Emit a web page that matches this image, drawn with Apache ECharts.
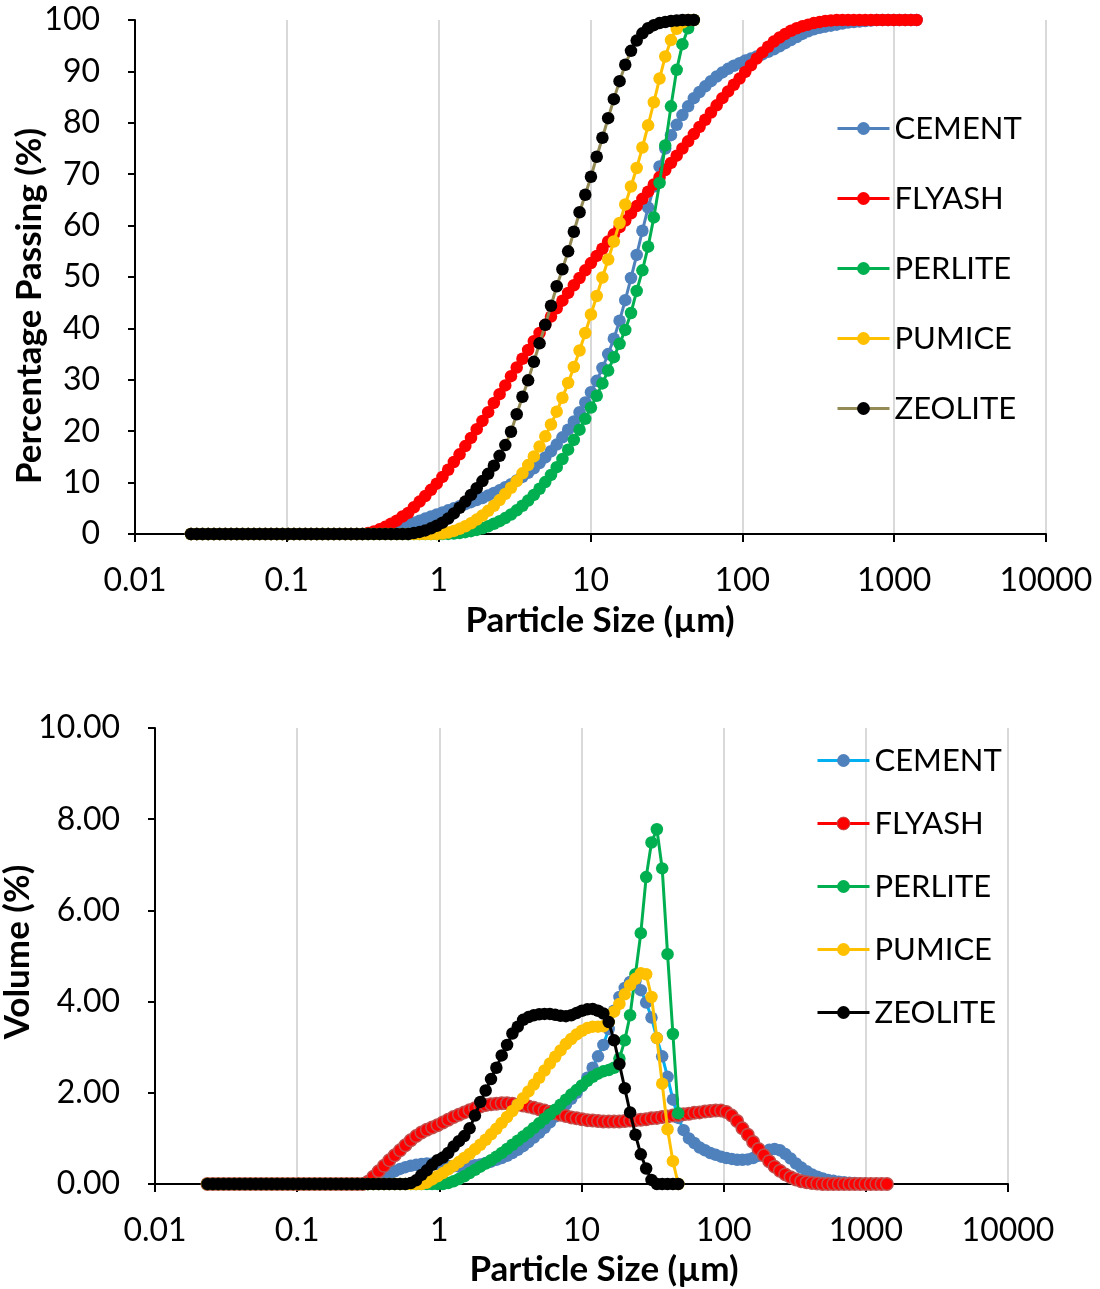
<!DOCTYPE html>
<html>
<head>
<meta charset="utf-8">
<script src="https://cdn.jsdelivr.net/npm/echarts@6/dist/echarts.min.js"></script>
<style>
  html, body { margin: 0; padding: 0; background: #ffffff; }
  #passing { position: absolute; left: 0; top: 0; width: 1100px; height: 650px; }
  #volume  { position: absolute; left: 0; top: 650px; width: 1100px; height: 639px; }
</style>
</head>
<body>
<div id="passing"></div>
<div id="volume"></div>
<script>
// Particle size classes (µm), one per measurement channel
const sizes = [
  0.0234,0.02552,0.02783,0.03035,0.03309,0.03609,0.03935,0.04292,
  0.0468,0.05104,0.05566,0.06069,0.06619,0.07218,0.07871,0.08583,
  0.0936,0.1021,0.1113,0.1214,0.1324,0.1444,0.1574,0.1717,
  0.1872,0.2041,0.2226,0.2428,0.2647,0.2887,0.3148,0.3433,
  0.3744,0.4083,0.4452,0.4855,0.5295,0.5774,0.6297,0.6867,
  0.7488,0.8166,0.8905,0.9711,1.059,1.155,1.259,1.373,
  1.498,1.633,1.781,1.942,2.118,2.310,2.519,2.747,
  2.995,3.266,3.562,3.884,4.236,4.619,5.037,5.493,
  5.990,6.533,7.124,7.769,8.472,9.238,10.07,10.99,
  11.98,13.07,14.25,15.54,16.94,18.48,20.15,21.97,
  23.96,26.13,28.50,31.07,33.89,36.95,40.30,43.95,
  47.92,52.26,56.99,62.15,67.77,73.91,80.60,87.89,
  95.85,104.5,114.0,124.3,135.5,147.8,161.2,175.8,
  191.7,209.0,228.0,248.6,271.1,295.6,322.4,351.6,
  383.4,418.1,455.9,497.2,542.2,591.3,644.8,703.1,
  766.8,836.2,911.8,994.4,1084,1183,1290,1406
];

const materials = ['CEMENT', 'FLYASH', 'PERLITE', 'PUMICE', 'ZEOLITE'];
const xTickLabels = ['0.01', '0.1', '1', '10', '100', '1000', '10000'];

// Cumulative percentage passing (%)
const passingCement = [
  0,0,0,0,0,0,0,0, 0,0,0,0,0,0,0,0, 0,0,0,0,0,0,0,0,
  0,0,0,0,0,0,0,0.05,
  0.15,0.3,0.5,0.75,1.05,1.4,1.8,2.2,
  2.6,3.0,3.4,3.8,4.2,4.6,5.0,5.4,
  5.8,6.2,6.6,7.0,7.5,8.0,8.5,9.1,
  9.7,10.4,11.1,11.9,12.8,13.8,14.9,16.1,
  17.4,18.8,20.3,21.9,23.7,25.6,27.6,29.8,
  32.3,35.0,38.0,41.5,45.5,49.8,54.3,59.0,
  63.5,67.6,71.5,75.0,77.6,79.6,81.5,83.2,
  84.8,86.0,87.1,88.1,89.0,89.8,90.5,91.1,
  91.6,92.1,92.5,92.9,93.3,93.8,94.3,94.9,
  95.5,96.1,96.7,97.3,97.8,98.2,98.5,98.7,
  98.9,99.1,99.3,99.5,99.6,99.7,99.8,99.9,
  100,100,100,100,100,100,100,100
];
const passingFlyash = [
  0,0,0,0,0,0,0,0, 0,0,0,0,0,0,0,0, 0,0,0,0,0,0,0,0,
  0,0,0,0,0,0,0,0.2,
  0.5,0.9,1.4,2.0,2.6,3.4,4.1,5.2,
  6.3,7.4,8.6,9.8,11.1,12.5,14.0,15.5,
  17.1,18.7,20.4,22.0,23.7,25.5,27.2,28.9,
  30.7,32.4,34.1,35.8,37.5,39.1,40.7,42.3,
  43.9,45.4,46.9,48.4,49.8,51.3,52.7,54.1,
  55.5,56.9,58.3,59.7,61.0,62.4,63.8,65.2,
  66.6,68.0,69.4,70.8,72.2,73.6,75.0,76.4,
  77.8,79.2,80.6,82.0,83.4,84.8,86.1,87.4,
  88.6,89.9,91.2,92.5,93.7,94.8,95.8,96.6,
  97.3,97.9,98.4,98.8,99.1,99.4,99.6,99.8,
  99.9,100,100,100,100,100,100,100,
  100,100,100,100,100,100,100,100
];
const passingPerlite = [
  0,0,0,0,0,0,0,0, 0,0,0,0,0,0,0,0, 0,0,0,0,0,0,0,0,
  0,0,0,0,0,0,0,0, 0,0,0,0,0,0,0,0,
  0,0,0,0,0,0.02,0.08,0.2,
  0.35,0.55,0.8,1.1,1.5,2.0,2.5,3.1,
  3.8,4.6,5.5,6.5,7.6,8.8,10.1,11.5,
  13.0,14.6,16.4,18.3,20.3,22.4,24.6,26.9,
  29.3,31.8,34.4,37.0,39.7,43.0,47.3,51.3,
  55.9,61.6,68.3,75.6,83.2,90.3,95.3,98.4,
  100
];
const passingPumice = [
  0,0,0,0,0,0,0,0, 0,0,0,0,0,0,0,0, 0,0,0,0,0,0,0,0,
  0,0,0,0,0,0,0,0, 0,0,0,0,0,0,0,0,
  0,0,0,0,0.1,0.3,0.6,1.0,
  1.5,2.1,2.8,3.6,4.5,5.5,6.6,7.8,
  9.0,10.3,11.8,13.4,15.1,17.0,19.0,21.3,
  23.8,26.5,29.4,32.5,35.7,39.1,42.7,46.3,
  49.9,53.4,56.9,60.5,64.1,67.6,71.2,75.2,
  79.5,84.0,88.6,92.9,96.1,98.3,99.5,100,
  100
];
const passingZeolite = [
  0,0,0,0,0,0,0,0, 0,0,0,0,0,0,0,0, 0,0,0,0,0,0,0,0,
  0,0,0,0,0,0,0,0,
  0,0,0,0,0,0,0,0.2,
  0.4,0.7,1.1,1.6,2.2,3.0,4.0,5.1,
  6.3,7.6,8.9,10.3,11.7,13.3,15.2,17.3,
  19.9,23.3,26.7,29.9,33.5,37.1,40.7,44.4,
  48.2,51.5,55.0,58.8,62.6,66.0,69.5,73.4,
  77.1,80.9,84.6,88.1,91.3,94.0,96.0,97.4,
  98.4,99.0,99.4,99.6,99.8,99.9,100,100,
  100
];

// Volume fraction per size class (%)
const volumeCement = [
  0,0,0,0,0,0,0,0, 0,0,0,0,0,0,0,0, 0,0,0,0,0,0,0,0,
  0,0,0,0,0,0,0,0.05,
  0.1,0.16,0.22,0.28,0.33,0.37,0.4,0.42,
  0.44,0.45,0.45,0.44,0.42,0.40,0.39,0.38,
  0.38,0.39,0.41,0.43,0.46,0.49,0.53,0.57,
  0.62,0.68,0.75,0.83,0.92,1.02,1.12,1.23,
  1.35,1.48,1.61,1.74,1.87,2.0,2.15,2.33,
  2.55,2.8,3.05,3.4,3.8,4.1,4.3,4.43,
  4.45,4.25,3.98,3.65,3.2,2.8,2.35,1.85,
  1.45,1.18,1.0,0.9,0.8,0.74,0.68,0.64,
  0.6,0.57,0.55,0.53,0.53,0.54,0.57,0.62,
  0.69,0.75,0.77,0.74,0.66,0.56,0.45,0.36,
  0.28,0.21,0.16,0.12,0.09,0.07,0.05,0.04,
  0.03,0.02,0.01,0.01,0,0,0,0
];
const volumeFlyash = [
  0,0,0,0,0,0,0,0, 0,0,0,0,0,0,0,0, 0,0,0,0,0,0,0,0,
  0,0,0,0,0,0,0.05,0.16,
  0.28,0.4,0.52,0.63,0.74,0.85,0.96,1.05,
  1.13,1.19,1.24,1.29,1.35,1.41,1.47,1.52,
  1.57,1.62,1.66,1.7,1.73,1.75,1.76,1.77,
  1.77,1.76,1.74,1.72,1.7,1.67,1.64,1.61,
  1.58,1.55,1.52,1.49,1.46,1.44,1.42,1.4,
  1.39,1.38,1.37,1.37,1.37,1.37,1.38,1.39,
  1.4,1.41,1.42,1.44,1.45,1.47,1.48,1.5,
  1.51,1.53,1.54,1.56,1.57,1.59,1.6,1.61,
  1.61,1.58,1.5,1.38,1.22,1.08,0.92,0.77,
  0.63,0.5,0.38,0.29,0.21,0.15,0.1,0.06,
  0.04,0.02,0.01,0,0,0,0,0,
  0,0,0,0,0,0,0,0
];
const volumePerlite = [
  0,0,0,0,0,0,0,0, 0,0,0,0,0,0,0,0, 0,0,0,0,0,0,0,0,
  0,0,0,0,0,0,0,0, 0,0,0,0,0,0,0,0,
  0,0,0,0,0,0.02,0.06,0.11,
  0.17,0.24,0.31,0.38,0.45,0.52,0.6,0.68,
  0.77,0.86,0.95,1.04,1.13,1.23,1.33,1.43,
  1.53,1.63,1.74,1.85,1.96,2.06,2.16,2.26,
  2.35,2.42,2.47,2.5,2.55,2.75,3.15,3.7,
  4.6,5.5,6.73,7.49,7.78,6.92,5.04,3.29,
  1.55
];
const volumePumice = [
  0,0,0,0,0,0,0,0, 0,0,0,0,0,0,0,0, 0,0,0,0,0,0,0,0,
  0,0,0,0,0,0,0,0, 0,0,0,0,0,0,0,0,
  0,0.03,0.1,0.17,0.24,0.32,0.4,0.48,
  0.57,0.66,0.76,0.86,0.97,1.09,1.21,1.34,
  1.47,1.6,1.74,1.88,2.03,2.18,2.33,2.49,
  2.64,2.79,2.93,3.07,3.18,3.28,3.36,3.42,
  3.45,3.45,3.46,3.55,3.78,3.95,4.16,4.36,
  4.5,4.62,4.6,4.1,3.2,2.2,1.2,0.5,
  0
];
const volumeZeolite = [
  0,0,0,0,0,0,0,0, 0,0,0,0,0,0,0,0, 0,0,0,0,0,0,0,0,
  0,0,0,0,0,0,0,0,
  0,0,0,0,0,0,0.02,0.08,
  0.2,0.3,0.42,0.52,0.58,0.68,0.82,0.94,
  1.05,1.22,1.5,1.8,2.05,2.3,2.55,2.82,
  3.05,3.3,3.45,3.6,3.66,3.7,3.72,3.73,
  3.73,3.71,3.69,3.68,3.7,3.75,3.8,3.83,
  3.84,3.8,3.74,3.55,3.15,2.63,2.1,1.57,
  1.08,0.65,0.34,0.09,0,0,0,0,
  0
];

const passingValues = [passingCement, passingFlyash, passingPerlite, passingPumice, passingZeolite];
const volumeValues = [volumeCement, volumeFlyash, volumePerlite, volumePumice, volumeZeolite];

// Line / marker colours for each material in the two plots
const passingLine = ['#4F81BD', '#FF0000', '#00B050', '#FFC000', '#948A54'];
const passingMark = ['#4F81BD', '#FF0000', '#00B050', '#FFC000', '#000000'];
const volumeLine  = ['#00B0F0', '#FF0000', '#00B050', '#FFC000', '#000000'];
const volumeMark  = ['#4F81BD', '#FF0000', '#00B050', '#FFC000', '#000000'];
const volumeBorder = [null, '#C0504D', null, null, null];

const FONT = 'Lato, "Open Sans", sans-serif';

function pairs(vals) {
  return vals.map((v, i) => [sizes[i], v]);
}

function logLabel(v) {
  const s = String(+Number(v).toPrecision(6));
  return xTickLabels.indexOf(s) >= 0 ? s : '';
}

function buildSeries(values, lineCols, markCols, borders) {
  return materials.map((name, k) => ({
    name: name,
    type: 'line',
    data: pairs(values[k]),
    symbol: 'circle',
    symbolSize: 12.5,
    showSymbol: true,
    clip: false,
    lineStyle: { color: lineCols[k], width: 3 },
    itemStyle: borders && borders[k]
      ? { color: markCols[k], borderColor: borders[k], borderWidth: 1.5 }
      : { color: markCols[k], borderWidth: 0 },
    emphasis: { disabled: true },
    z: 2 + k
  }));
}

function legendData(lineCols, markCols, borders) {
  return materials.map((name, k) => ({
    name: name,
    itemStyle: borders && borders[k]
      ? { color: markCols[k], borderColor: borders[k], borderWidth: 1 }
      : { color: markCols[k], borderWidth: 0 },
    lineStyle: { color: lineCols[k], width: 3 }
  }));
}

function xAxisCfg() {
  return {
    type: 'log', logBase: 10, min: 0.01, max: 10000,
    axisLine: { show: true, lineStyle: { color: '#000', width: 2 } },
    axisTick: { show: true, length: 8, lineStyle: { color: '#000', width: 2 } },
    minorTick: { show: false },
    axisLabel: { fontFamily: FONT, fontSize: 32, color: '#000', margin: 31, formatter: logLabel },
    splitLine: { show: true, lineStyle: { color: '#D9D9D9', width: 2 } }
  };
}

function yAxisCfg(max, interval, fmt) {
  return {
    type: 'value', min: 0, max: max, interval: interval,
    axisLine: { show: true, lineStyle: { color: '#000', width: 2 } },
    axisTick: { show: true, length: 7, lineStyle: { color: '#000', width: 2 } },
    axisLabel: { fontFamily: FONT, fontSize: 32, color: '#000', margin: 35, formatter: fmt },
    splitLine: { show: false }
  };
}

function titleText(text, x, y, rotate) {
  return {
    type: 'text', x: x, y: y, rotation: rotate ? Math.PI / 2 : 0,
    style: {
      text: text, fill: '#000', font: 'bold 35px ' + FONT,
      align: 'center', verticalAlign: 'middle'
    }
  };
}

// Cumulative passing curves
const passingChart = echarts.init(document.getElementById('passing'), null, { renderer: 'canvas' });
passingChart.setOption({
  animation: false,
  backgroundColor: '#ffffff',
  grid: { left: 135, top: 20, width: 911, height: 514, containLabel: false },
  xAxis: xAxisCfg(),
  yAxis: yAxisCfg(100, 10, v => String(v)),
  legend: {
    orient: 'vertical', left: 836, top: 113, padding: 0,
    itemWidth: 52, itemHeight: 16, itemGap: 39,
    textStyle: { fontFamily: FONT, fontSize: 31, color: '#000', lineHeight: 30 },
    data: legendData(passingLine, passingMark, null),
    selectedMode: false
  },
  graphic: [
    titleText('Particle Size (µm)', 600, 621, false),
    titleText('Percentage Passing (%)', 30, 306, true)
  ],
  series: buildSeries(passingValues, passingLine, passingMark, null)
});

// Volume distribution curves
const volumeChart = echarts.init(document.getElementById('volume'), null, { renderer: 'canvas' });
volumeChart.setOption({
  animation: false,
  backgroundColor: '#ffffff',
  grid: { left: 155, top: 78, width: 853, height: 456, containLabel: false },
  xAxis: xAxisCfg(),
  yAxis: yAxisCfg(10, 2, v => v.toFixed(2)),
  legend: {
    orient: 'vertical', left: 816, top: 95, padding: 0,
    itemWidth: 52, itemHeight: 16, itemGap: 32,
    textStyle: { fontFamily: FONT, fontSize: 31, color: '#000', lineHeight: 30 },
    data: legendData(volumeLine, volumeMark, volumeBorder),
    selectedMode: false
  },
  graphic: [
    titleText('Particle Size (µm)', 604, 620, false),
    titleText('Volume (%)', 18, 302, true)
  ],
  series: buildSeries(volumeValues, volumeLine, volumeMark, volumeBorder)
});
</script>
</body>
</html>
